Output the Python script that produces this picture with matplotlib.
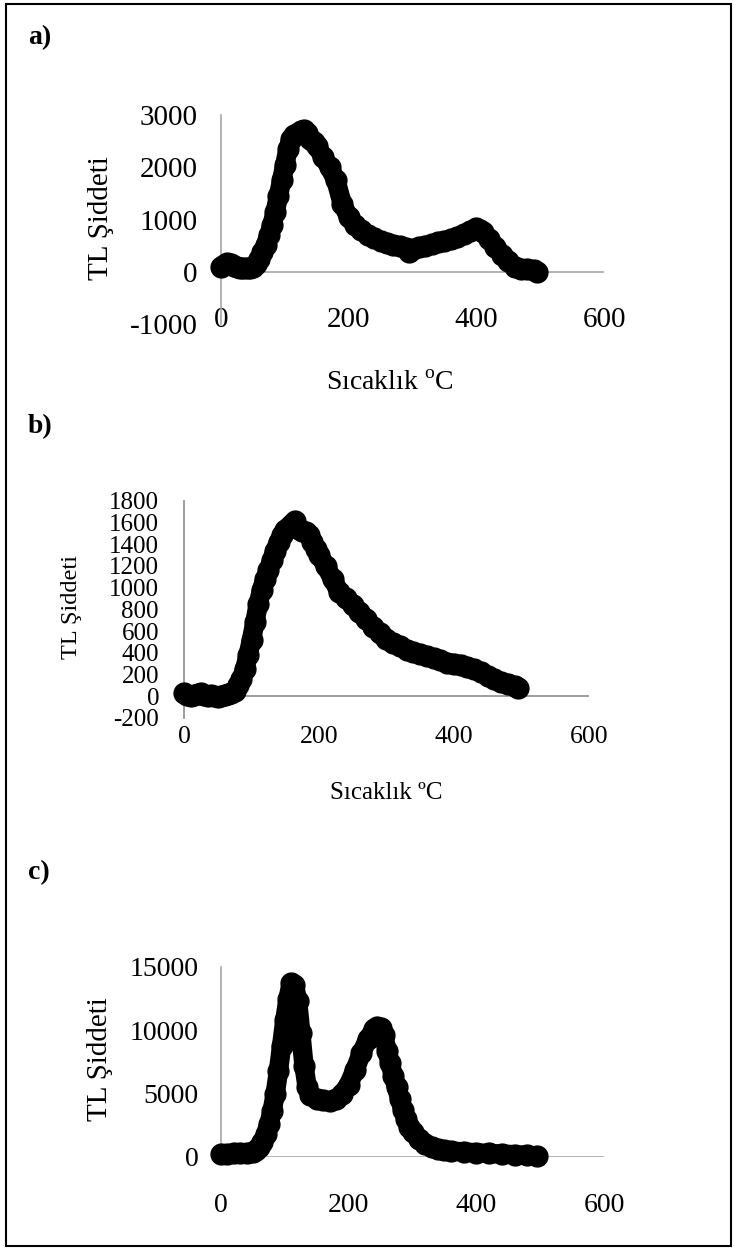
import numpy as np
import matplotlib
matplotlib.use("Agg")
import matplotlib.pyplot as plt
from matplotlib.patches import Rectangle

plt.rcParams['font.family'] = ['Liberation Serif', 'DejaVu Serif']
plt.rcParams['mathtext.fontset'] = 'custom'
plt.rcParams['mathtext.rm'] = 'Liberation Serif'
plt.rcParams['axes.unicode_minus'] = False

# a) glow curve
temp_a = [0, 5, 10, 15, 20, 25, 30, 35, 40, 45, 50, 55, 60, 65, 70, 75, 80, 85, 90, 95,
          100, 105, 110, 115, 120, 125, 130, 135, 140, 145, 150, 160, 170, 180, 190, 200,
          210, 220, 230, 240, 250, 260, 270, 280, 290, 295, 300, 310, 320, 330, 340, 350,
          360, 370, 380, 390, 400, 405, 410, 420, 430, 440, 450, 460, 470, 480, 490, 495]
tl_a = [100, 130, 160, 140, 110, 90, 80, 75, 70, 70, 90, 150, 250, 380, 520, 700, 900, 1150, 1450, 1750,
        2050, 2350, 2550, 2620, 2650, 2700, 2720, 2650, 2550, 2480, 2400, 2200, 2000, 1750, 1300, 1050,
        900, 800, 710, 650, 590, 550, 520, 490, 450, 380, 430, 470, 500, 530, 560, 590,
        620, 670, 720, 780, 830, 800, 760, 620, 480, 330, 200, 100, 60, 50, 30, 0]

# b) glow curve
temp_b = [0, 5, 10, 15, 20, 25, 30, 35, 40, 45, 50, 55, 60, 65, 70, 75, 80, 85, 90, 95,
          100, 105, 110, 115, 120, 125, 130, 135, 140, 145, 150, 155, 160, 165, 170, 175, 180,
          185, 190, 195, 200, 210, 220, 230, 240, 250, 260, 270, 280, 290, 300, 310, 320, 330,
          340, 350, 360, 370, 380, 390, 400, 410, 420, 430, 440, 450, 460, 470, 480, 490, 495]
tl_b = [30, 10, 0, 10, 20, 30, 10, 0, 10, 0, -10, 0, 10, 20, 30, 50, 100, 160, 250, 380,
        520, 680, 850, 980, 1080, 1160, 1250, 1340, 1420, 1480, 1530, 1560, 1590, 1610, 1540, 1520, 1510,
        1480, 1420, 1360, 1300, 1200, 1080, 960, 900, 840, 780, 710, 640, 580, 530, 490, 460, 430,
        410, 390, 370, 350, 330, 310, 300, 290, 270, 250, 220, 190, 160, 130, 110, 90, 80]

# c) glow curve
temp_c = [0, 10, 20, 30, 40, 50, 55, 60, 65, 70, 75, 80, 85, 90, 95, 100, 105, 110, 115, 120,
          125, 130, 135, 140, 150, 160, 170, 180, 190, 200, 210, 220, 230, 240, 245, 250, 255,
          260, 265, 270, 275, 280, 285, 290, 295, 300, 310, 320, 330, 340, 350, 360, 380, 400,
          420, 440, 460, 480, 495]
tl_c = [200, 250, 280, 300, 320, 400, 550, 800, 1200, 1800, 2600, 3600, 5000, 6800, 8800, 10800, 12500, 13700, 13600, 12300,
        9800, 7200, 5500, 4900, 4600, 4500, 4400, 4600, 5000, 5700, 6900, 8200, 9300, 10100, 10300, 10200, 9600,
        8400, 7400, 6400, 5500, 4600, 3700, 3000, 2400, 2000, 1400, 1000, 800, 650, 550, 480, 400, 330,
        280, 230, 180, 130, 80]

xticks = [0, 200, 400, 600]
yticks_a = [-1000, 0, 1000, 2000, 3000]
yticks_b = [-200, 0, 200, 400, 600, 800, 1000, 1200, 1400, 1600, 1800]
yticks_c = [0, 5000, 10000, 15000]

W, H = 734, 1249
fig = plt.figure(figsize=(W / 100, H / 100), dpi=100)


def rect(x0, x1, ytop, ybot):
    return [x0 / W, 1 - ybot / H, (x1 - x0) / W, (ybot - ytop) / H]


def panel(box, T, I, ylim, yticks, axcol, xsize, ysize, xpad, ypad):
    ax = fig.add_axes(rect(*box))
    ax.plot(T, I, color='black', lw=14, marker='o', ms=15, solid_capstyle='round',
            solid_joinstyle='round', zorder=3, clip_on=False)
    ax.set_xlim(0, 600)
    ax.set_ylim(*ylim)
    ax.set_xticks(xticks)
    ax.set_yticks(yticks)
    for s in ['top', 'right', 'bottom']:
        ax.spines[s].set_visible(False)
    ax.spines['left'].set_color(axcol)
    ax.spines['left'].set_linewidth(1.2)
    ax.axhline(0, color=axcol, lw=1.2, zorder=1)
    ax.tick_params(axis='both', length=0)
    ax.tick_params(axis='x', labelsize=xsize, pad=xpad)
    ax.tick_params(axis='y', labelsize=ysize, pad=ypad)
    return ax


ax_a = panel((221, 604, 115, 324), temp_a, tl_a, (-1000, 3000), yticks_a,
             '#a6a6a6', 21, 21, -12, 17)
ax_b = panel((184, 589, 500.7, 718), temp_b, tl_b, (-200, 1800), yticks_b,
             '#8c8c8c', 18.5, 18, 6, 18)
ax_c = panel((221, 604, 967, 1157), temp_c, tl_c, (0, 15000), yticks_c,
             '#a6a6a6', 20, 20, 26, 16)

# axis titles
fig.text(101 / W, 1 - 218 / H, 'TL Şiddeti', rotation=90, ha='center', va='center', fontsize=21)
fig.text(72 / W, 1 - 607 / H, 'TL Şiddeti', rotation=90, ha='center', va='center', fontsize=17.5)
fig.text(100 / W, 1 - 1059 / H, 'TL Şiddeti', rotation=90, ha='center', va='center', fontsize=21)
fig.text(390 / W, 1 - 383 / H, r'Sıcaklık $^{\mathrm{o}}$C', ha='center', va='center', fontsize=20)
fig.text(386 / W, 1 - 793 / H, 'Sıcaklık ºC', ha='center', va='center', fontsize=18)

# panel letters
for lab, y in [('a)', 38), ('b)', 427), ('c)', 873)]:
    fig.text(28 / W, 1 - y / H, lab, ha='left', va='center', fontsize=20, fontweight='bold')

# frame around the whole figure
fig.patches.append(Rectangle((6 / W, 3 / H), (731 - 6) / W, (1245 - 3) / H,
                             transform=fig.transFigure, fill=False, lw=1.5, edgecolor='black'))

fig.savefig('out.png', dpi=100)
